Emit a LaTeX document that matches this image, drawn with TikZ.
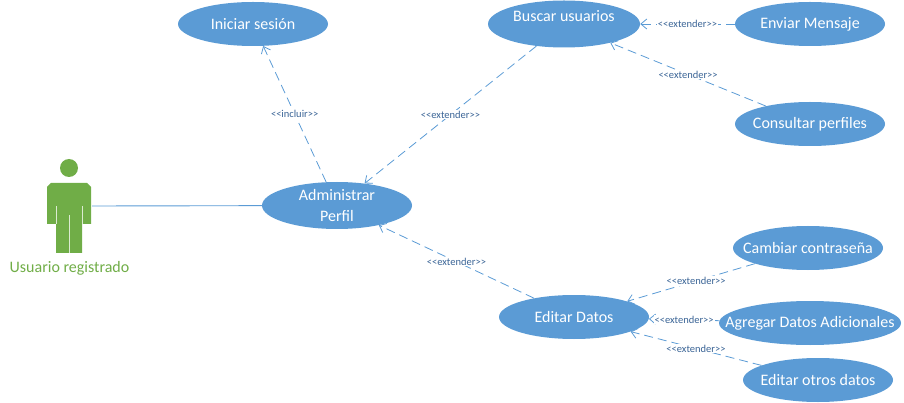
\documentclass[tikz,border=0pt]{standalone}
\usepackage{fontspec}
\setmainfont{Carlito}
\usetikzlibrary{shapes.geometric,arrows.meta}
\definecolor{ucblue}{HTML}{5B9BD5}
\definecolor{actorgreen}{HTML}{70AD47}
\definecolor{stereo}{HTML}{3A6496}
\begin{document}
\begin{tikzpicture}[
    x=1pt, y=-1pt,
    usecase/.style={ellipse, fill=ucblue, text=white, align=center, inner xsep=-21pt, inner ysep=-6pt,
      minimum width=150pt, minimum height=44pt, font=\fontsize{16}{21}\selectfont},
    extends/.style={draw=ucblue, line width=0.8pt, dash pattern=on 9pt off 5pt, -{Straight Barb[length=6pt,width=10pt]}},
    stereotype/.style={midway, fill=white, inner sep=1pt, text=stereo, font=\fontsize{10.5}{12}\selectfont}
  ]
  \useasboundingbox (0,0) rectangle (904,403);

  % Actor
  \fill[actorgreen] (69,168) circle (9);
  \fill[actorgreen] (51,183) -- (87,183) -- (91,187) -- (91,224) -- (82,224) -- (82,253)
    -- (56,253) -- (56,224) -- (47,224) -- (47,187) -- cycle;
  \draw[white!75!actorgreen, thin] (56,206) -- (56,224) (82,206) -- (82,224) (69,215) -- (69,253);
  \coordinate (actorhand) at (92,206);
  \node[text=actorgreen, font=\fontsize{16}{21}\selectfont] (actorname) at (69.5,268) {Usuario registrado};

  % Use cases
  \node[usecase] (iniciar) at (253,24) {Iniciar sesión};
  \node[usecase, minimum width=152pt, minimum height=47pt] (buscar) at (564,24) {\raisebox{16pt}{Buscar usuarios}};
  \node[usecase] (enviar) at (810,24) {Enviar Mensaje};
  \node[usecase] (consultar) at (810,124) {Consultar perfiles};
  \node[usecase, minimum height=47pt] (admin) at (337,205.5) {Administrar\\Perfil};
  \node[usecase] (editar) at (574,317) {Editar Datos};
  \node[usecase] (cambiar) at (808,248) {Cambiar contraseña};
  \node[usecase, minimum width=182pt] (agregar) at (810,323) {Agregar Datos Adicionales};
  \node[usecase] (otros) at (818,380) {Editar otros datos};

  % Connectors
  \draw[ucblue, line width=0.9pt] (actorhand) -- (admin);
  \draw[extends] (admin) -- node[stereotype] {{<}{<}incluir{>}{>}} (iniciar);
  \draw[extends] (buscar) -- node[stereotype] {{<}{<}extender{>}{>}} (admin);
  \draw[extends] (editar) -- node[stereotype] {{<}{<}extender{>}{>}} (admin);
  \draw[extends] (enviar) -- node[stereotype] {{<}{<}extender{>}{>}} (buscar);
  \draw[extends] (consultar) -- node[stereotype] {{<}{<}extender{>}{>}} (buscar);
  \draw[extends] (cambiar) -- node[stereotype, pos=.46] {{<}{<}extender{>}{>}} (editar);
  \draw[extends] (agregar) -- node[stereotype] {{<}{<}extender{>}{>}} (editar);
  \draw[extends] (otros) -- node[stereotype] {{<}{<}extender{>}{>}} (editar);

\end{tikzpicture}
\end{document}
